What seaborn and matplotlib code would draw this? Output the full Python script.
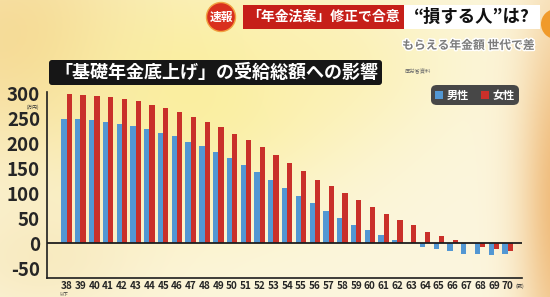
import numpy as np
import pandas as pd
import matplotlib
matplotlib.use("Agg")
import matplotlib.pyplot as plt
import seaborn as sns
from matplotlib.patches import FancyBboxPatch, Rectangle, Circle
import matplotlib.patheffects as pe

# ---------------- data ----------------
ages = [str(a) for a in range(38, 71)]
male = [249, 249, 247, 244, 240, 235, 230, 222, 215, 204, 195, 183, 171, 158,
        143, 127, 111, 95, 80, 65, 50, 37, 26, 16, 7, 1, -8, -12, -15, -21,
        -22, -23, -22]
female = [299, 298, 295, 293, 290, 285, 278, 271, 263, 254, 244, 233, 220, 207,
          193, 177, 161, 145, 128, 114, 100, 86, 72, 59, 46, 37, 23, 15, 7, 0,
          -7, -12, -15]
series_names = ["男性", "女性"]
yticks = [-50, 0, 50, 100, 150, 200, 250, 300]

title = "「基礎年金底上げ」の受給総額への影響"
header_red = "「年金法案」修正で合意"
header_black = "“損する人”は?"
sub_header = "もらえる年金額 世代で差"
source = "厚労省資料"

df = pd.DataFrame({
    "age": ages * 2,
    "value": male + female,
    "sex": [series_names[0]] * len(ages) + [series_names[1]] * len(ages),
})

# ---------------- style ----------------
sns.set_style("white")
plt.rcParams["font.family"] = ["Noto Sans CJK JP", "DejaVu Sans"]

BLUE = "#5297D3"
RED = "#C9302A"

W, H = 550, 297
fig = plt.figure(figsize=(W / 100, H / 100), dpi=100)

# background axes in pixel coordinates
bg = fig.add_axes([0, 0, 1, 1], zorder=0)
bg.set_xlim(0, W)
bg.set_ylim(H, 0)
bg.axis("off")

yy, xx = np.mgrid[0:H, 0:W].astype(float)
img = np.zeros((H, W, 3))
base = np.array([252, 246, 222]) / 255.0
img[:] = base


def blob(cx, cy, sx, sy, color, strength):
    w = strength * np.exp(-(((xx - cx) / sx) ** 2 + ((yy - cy) / sy) ** 2))
    c = np.array(color) / 255.0
    return w[..., None], c


for (cx, cy, sx, sy, col, s) in [
    (20, 40, 140, 120, (244, 212, 140), 0.85),
    (200, 90, 150, 120, (250, 238, 150), 0.85),
    (330, 60, 120, 80, (252, 240, 170), 0.6),
    (560, 200, 40, 200, (238, 180, 110), 0.9),
    (40, 260, 100, 60, (245, 225, 170), 0.5),
]:
    w, c = blob(cx, cy, sx, sy, col, s)
    img = img * (1 - w) + c * w
bg.imshow(np.clip(img, 0, 1), extent=[0, W, H, 0], aspect="auto", zorder=0)

# header
bg.add_patch(Rectangle((403, 5), 137, 24, facecolor="white", edgecolor="none", zorder=2))
bg.add_patch(Rectangle((243, 5), 161, 24, facecolor="#C61F19", edgecolor="none", zorder=3))
bg.add_patch(Circle((221, 17), 14.5, facecolor="#D9301E", edgecolor="#F2A040", lw=1.0, zorder=3))
bg.add_patch(Circle((556, 24), 15, facecolor="#F09A2A", edgecolor="none", zorder=3))
bg.text(221, 17.5, "速報", color="white", fontsize=8.5, fontweight="bold",
        ha="center", va="center", zorder=4)
bg.text(323.5, 17, header_red, color="white", fontsize=10, fontweight="bold",
        ha="center", va="center", zorder=4)
bg.text(472, 17, header_black, color="#111111", fontsize=12.5, fontweight="bold",
        ha="center", va="center", zorder=4)
bg.text(534, 45.5, sub_header, color="#7c7c7c", fontsize=8.5, fontweight="bold",
        ha="right", va="center", zorder=4,
        path_effects=[pe.withStroke(linewidth=2, foreground="white")])

# title box
bg.add_patch(FancyBboxPatch((49, 60), 333, 25, boxstyle="round,pad=0,rounding_size=3",
                            facecolor="#161616", edgecolor="none", zorder=2))
bg.text(216, 72.5, title, color="white", fontsize=13, fontweight="bold",
        ha="center", va="center", zorder=3)
bg.text(405, 72, source, color="#6d6d6d", fontsize=3.8, ha="left", va="center", zorder=3)

# ---------------- main chart ----------------
ax = fig.add_axes([47 / W, 1 - 278 / H, (522 - 47) / W, (278 - 91.5) / H], zorder=1)
ax.set_facecolor("none")
sns.barplot(data=df, x="age", y="value", hue="sex",
            palette={series_names[0]: BLUE, series_names[1]: RED},
            width=0.76, saturation=1, edgecolor="none", ax=ax)
ax.set_xlim(-1.43, 33.04)
ax.set_ylim(-70, 305)
ax.axhline(0, color="#1e1e1e", lw=1.3, zorder=3)

for s in ["top", "right"]:
    ax.spines[s].set_visible(False)
for s in ["left", "bottom"]:
    ax.spines[s].set_color("#1e1e1e")
    ax.spines[s].set_linewidth(1.2)

ax.set_yticks(yticks)
ax.set_yticklabels([str(v) for v in yticks])
ax.tick_params(axis="y", direction="in", length=4, width=1, color="#1e1e1e",
               labelsize=13.5, pad=5)
for lab in ax.get_yticklabels():
    lab.set_fontweight("bold")
ax.tick_params(axis="x", length=0, labelsize=7.2, pad=2.5)
for lab in ax.get_xticklabels():
    lab.set_fontweight("bold")
ax.set_xlabel("")
ax.set_ylabel("")

# small unit texts
bg.text(33, 107, "(万円)", fontsize=3.4, color="#333333", ha="center", va="center", zorder=3)
bg.text(64, 294.5, "以下", fontsize=3.2, color="#333333", ha="center", va="center", zorder=3)
bg.text(520, 286, "(歳)", fontsize=3.8, color="#333333", ha="center", va="center", zorder=3)

# legend
leg = ax.legend(loc="center", bbox_to_anchor=(475 / W, 1 - 95 / H),
                bbox_transform=fig.transFigure, ncol=2, frameon=True,
                facecolor="#474747", edgecolor="none", framealpha=1,
                fontsize=8, handlelength=0.75, handleheight=0.75,
                handletextpad=0.3, columnspacing=1.1, borderpad=0.35,
                fancybox=True)
leg.get_frame().set_boxstyle("round,pad=0,rounding_size=0.5")
for t in leg.get_texts():
    t.set_color("white")
    t.set_fontweight("bold")

fig.savefig("out.png", dpi=100)
